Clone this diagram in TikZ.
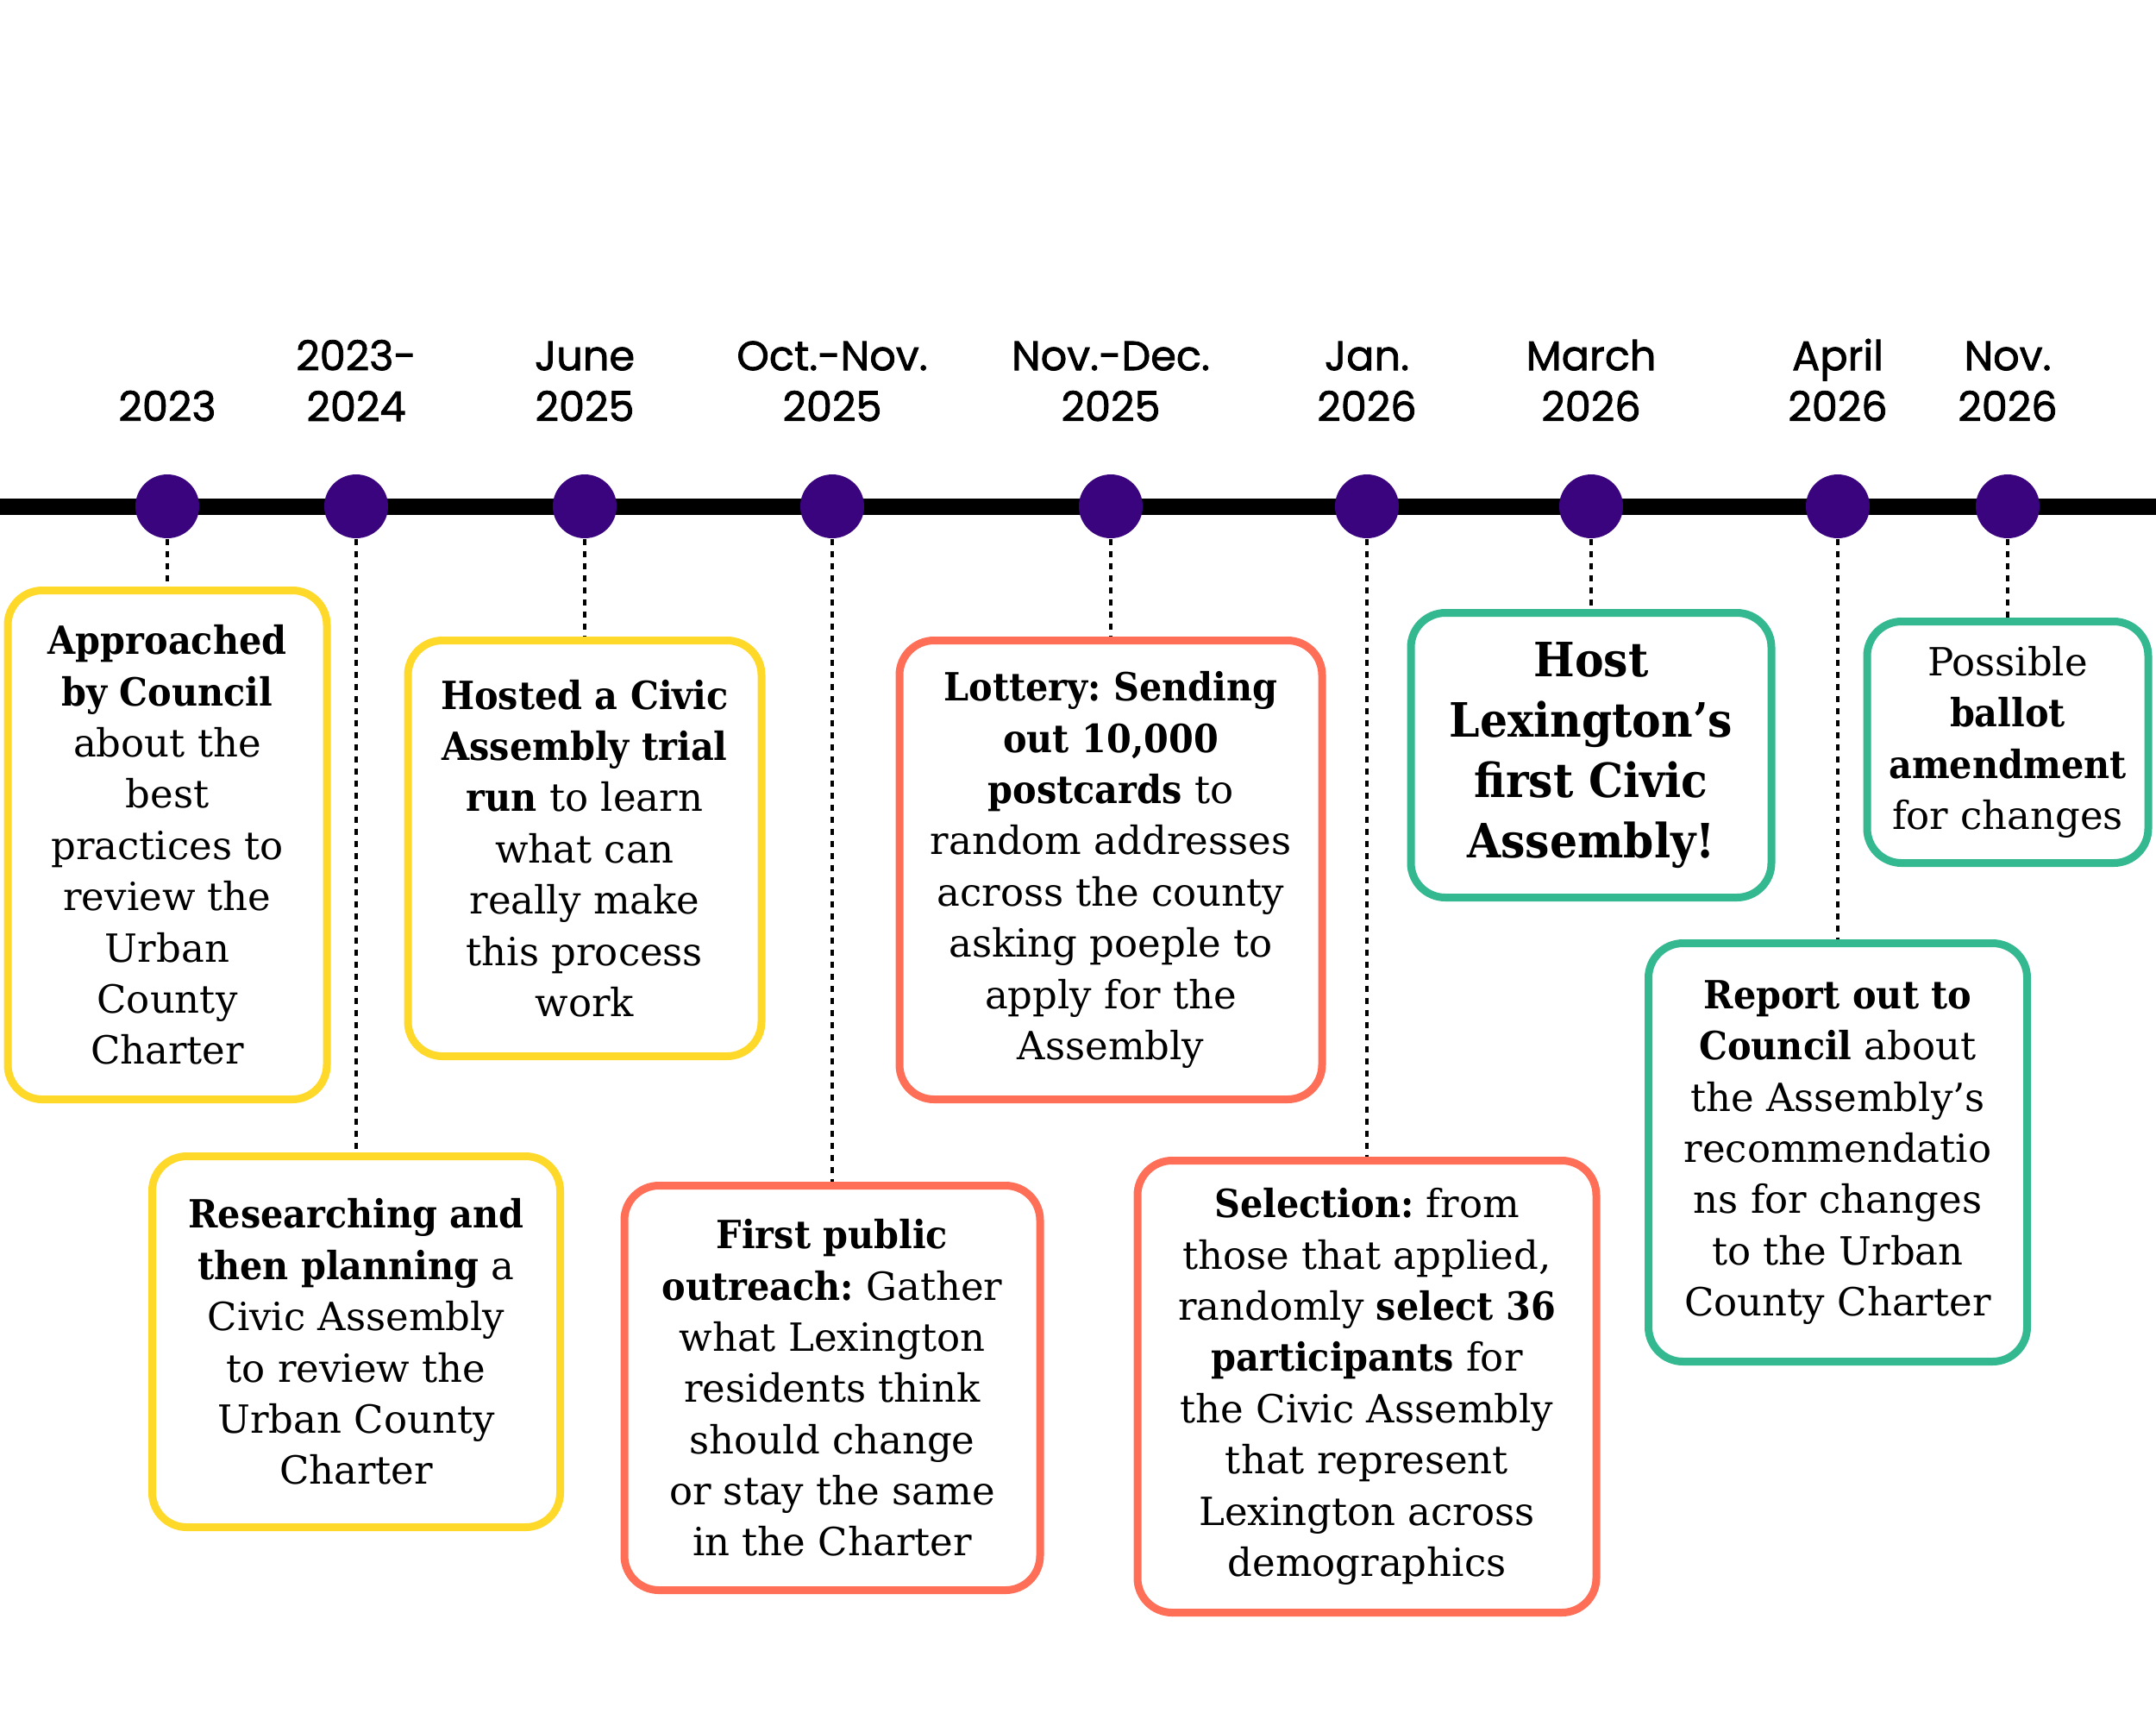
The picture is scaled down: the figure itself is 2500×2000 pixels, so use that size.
\documentclass[tikz,border=0pt]{standalone}
\usepackage{fontspec}
\setmainfont{DejaVu Serif}[BoldFeatures={FakeStretch=0.92}]
\newfontfamily\datefont{Poppins}[FakeBold=1.6]
\usetikzlibrary{positioning}
\frenchspacing

\definecolor{dotpurple}{HTML}{3B047F}
\definecolor{sunyellow}{HTML}{FFD92A}
\definecolor{coral}{HTML}{FF6E57}
\definecolor{mintgreen}{HTML}{34B88F}

\begin{document}
\begin{tikzpicture}[x=0.1mm,y=-0.1mm,
  stopdot/.style={circle,fill=dotpurple,minimum size=7.4mm,inner sep=0pt},
  datelbl/.style={font=\datefont\fontsize{13.6}{16.8}\selectfont,align=center,anchor=south,inner sep=0pt},
  event/.style={draw=#1,line width=0.9mm,rounded corners=4mm,fill=white,align=center,anchor=north,inner sep=0pt,font=\fontsize{12.8}{16.9}\selectfont},
  leader/.style={line width=0.45mm,dash pattern=on 0.7mm off 0.7mm}]

\useasboundingbox (0,0) rectangle (2500,2000);

% ---------- axis ----------
\coordinate (axisL) at (0,587);
\coordinate (axisR) at (2500,587);
\draw[line width=1.9mm] (axisL) -- (axisR);

% ---------- stops ----------
\node[stopdot] (d1) at (194,587) {};
\node[stopdot] (d2) at (413,587) {};
\node[stopdot] (d3) at (678,587) {};
\node[stopdot] (d4) at (965,587) {};
\node[stopdot] (d5) at (1288,587) {};
\node[stopdot] (d6) at (1585,587) {};
\node[stopdot] (d7) at (1845,587) {};
\node[stopdot] (d8) at (2131,587) {};
\node[stopdot] (d9) at (2328,587) {};

% ---------- dates ----------
\node[datelbl] (t1) at (194,489) {2023};
\node[datelbl] (t2) at (413,489) {2023-\\2024};
\node[datelbl] (t3) at (678,489) {June\\2025};
\node[datelbl] (t4) at (965,489) {Oct.-Nov.\\2025};
\node[datelbl] (t5) at (1288,489) {Nov.-Dec.\\2025};
\node[datelbl] (t6) at (1585,489) {Jan.\\2026};
\node[datelbl] (t7) at (1845,489) {March\\2026};
\node[datelbl] (t8) at (2131,489) {April\\2026};
\node[datelbl] (t9) at (2328,489) {Nov.\\2026};

% ---------- events ----------
\node[event=sunyellow,minimum width=37mm,minimum height=59mm] (e1) at (194,680)
  {\textbf{Approached}\\\textbf{by Council}\\about the\\best\\practices to\\review the\\Urban\\County\\Charter};
\node[event=sunyellow,minimum width=47.3mm,minimum height=43mm] (e2) at (413,1336)
  {\textbf{Researching and}\\\textbf{then planning} a\\Civic Assembly\\to review the\\Urban County\\Charter};
\node[event=sunyellow,minimum width=41mm,minimum height=48.2mm] (e3) at (678,738)
  {\textbf{Hosted a Civic}\\\textbf{Assembly trial}\\\textbf{run} to learn\\what can\\really make\\this process\\work};
\node[event=coral,minimum width=48.2mm,minimum height=46.9mm] (e4) at (965,1370)
  {\textbf{First public}\\\textbf{outreach:} Gather\\what Lexington\\residents think\\should change\\or stay the same\\in the Charter};
\node[event=coral,minimum width=49mm,minimum height=53.2mm] (e5) at (1288,738)
  {\textbf{Lottery: Sending}\\\textbf{out 10,000}\\\textbf{postcards} to\\random addresses\\across the county\\asking poeple to\\apply for the\\Assembly};
\node[event=coral,minimum width=53.2mm,minimum height=52.4mm] (e6) at (1585,1341)
  {\textbf{Selection:} from\\those that applied,\\randomly \textbf{select 36}\\\textbf{participants} for\\the Civic Assembly\\that represent\\Lexington across\\demographics};
\node[event=mintgreen,minimum width=41.8mm,minimum height=33mm,font=\bfseries\fontsize{15.6}{19.9}\selectfont] (e7) at (1845,706)
  {Host\\Lexington’s\\first Civic\\Assembly!};
\node[event=mintgreen,minimum width=43.9mm,minimum height=48.5mm] (e8) at (2131,1089)
  {\textbf{Report out to}\\\textbf{Council} about\\the Assembly’s\\recommendatio\\ns for changes\\to the Urban\\County Charter};
\node[event=mintgreen,minimum width=32.6mm,minimum height=28mm] (e9) at (2328,716)
  {Possible\\\textbf{ballot}\\\textbf{amendment}\\for changes};

% ---------- leaders ----------
\foreach \i in {1,...,9}
  \draw[leader] (d\i.south) -- (e\i.north);
\end{tikzpicture}
\end{document}
